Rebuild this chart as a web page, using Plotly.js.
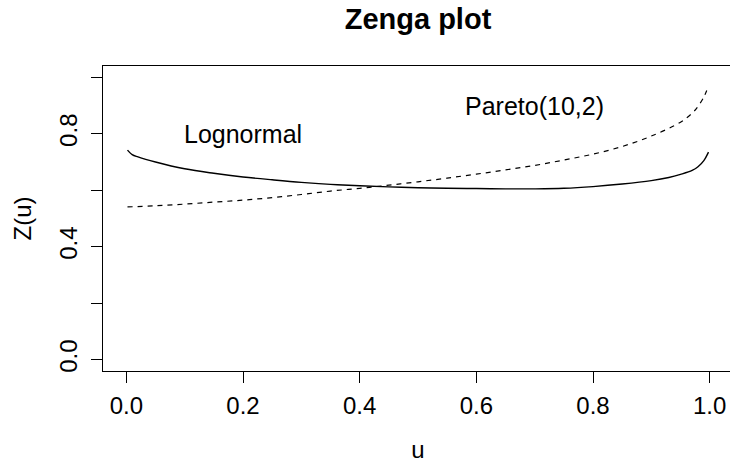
<!DOCTYPE html>
<html>
<head>
<meta charset="utf-8">
<script src="https://cdn.plot.ly/plotly-3.0.1.min.js"></script>
<style>
html, body { margin:0; padding:0; overflow:hidden; background:#fff; }
#chart { width:740px; height:463px; }
</style>
</head>
<body>
<div id="chart"></div>
<script>
// Lognormal Zenga curve (solid)
const uLogn = [0.002, 0.01, 0.02, 0.05, 0.10, 0.15, 0.20, 0.25, 0.30, 0.35, 0.40, 0.45, 0.50, 0.55, 0.60, 0.65, 0.70, 0.75, 0.80, 0.85, 0.90, 0.93, 0.95, 0.97, 0.98, 0.99, 0.998];
const zLogn = [0.742, 0.726, 0.718, 0.700, 0.676, 0.660, 0.647, 0.637, 0.628, 0.621, 0.616, 0.612, 0.609, 0.607, 0.606, 0.605, 0.605, 0.607, 0.613, 0.622, 0.634, 0.645, 0.656, 0.670, 0.683, 0.705, 0.735];
// Pareto(10,2) Zenga curve (dashed)
const uPar = [0.002, 0.05, 0.10, 0.15, 0.20, 0.25, 0.30, 0.35, 0.40, 0.45, 0.50, 0.55, 0.60, 0.65, 0.70, 0.75, 0.80, 0.85, 0.90, 0.95, 0.97, 0.98, 0.99, 0.995];
const zPar = [0.541, 0.545, 0.551, 0.558, 0.565, 0.574, 0.585, 0.597, 0.607, 0.618, 0.630, 0.643, 0.657, 0.672, 0.688, 0.707, 0.728, 0.755, 0.792, 0.841, 0.873, 0.897, 0.930, 0.953];

const xTickVals = [0, 0.2, 0.4, 0.6, 0.8, 1.0];
const xTickText = ["0.0", "0.2", "0.4", "0.6", "0.8", "1.0"];
const yTickVals = [0, 0.2, 0.4, 0.6, 0.8, 1.0];
const yTickText = ["0.0", "", "0.4", "", "0.8", ""];

const labels = [
  {text: "Lognormal", x: 0.2, y: 0.8},
  {text: "Pareto(10,2)", x: 0.7, y: 0.9}
];

const FONT = "Liberation Sans, Arial, Helvetica, sans-serif";

const traces = [
  {x: uLogn, y: zLogn, type: "scatter", mode: "lines", line: {color: "#000", width: 1.4, shape: "spline"}, hoverinfo: "skip"},
  {x: uPar, y: zPar, type: "scatter", mode: "lines", line: {color: "#000", width: 1.2, dash: "5px,5px", shape: "spline"}, hoverinfo: "skip"}
];

const layout = {
  width: 740, height: 463,
  margin: {l: 103, r: 7, t: 66, b: 92},
  paper_bgcolor: "#fff", plot_bgcolor: "#fff",
  showlegend: false,
  font: {family: FONT, size: 24, color: "#000"},
  title: {text: "<b>Zenga plot</b>", font: {family: FONT, size: 29, color: "#000"},
          x: 0.5, xref: "paper", xanchor: "center", y: 1 - 19/463, yref: "container", yanchor: "middle"},
  xaxis: {
    range: [-0.04, 1.04], tickvals: xTickVals, ticktext: xTickText,
    ticks: "outside", ticklen: 11, tickwidth: 1, tickcolor: "#000",
    showline: true, mirror: true, linecolor: "#000", linewidth: 1,
    showgrid: false, zeroline: false,
    tickfont: {size: 24}, ticklabelstandoff: 2,
    title: {text: "u", font: {size: 24}, standoff: 24}
  },
  yaxis: {
    range: [-0.04, 1.04], tickvals: yTickVals, ticktext: yTickText,
    ticks: "outside", ticklen: 11, tickwidth: 1, tickcolor: "#000",
    showline: true, mirror: true, linecolor: "#000", linewidth: 1,
    showgrid: false, zeroline: false, tickangle: -90,
    tickfont: {size: 24}, ticklabelstandoff: 4,
    title: {text: "Z(u)", font: {size: 24}, standoff: 17}
  },
  annotations: labels.map(l => ({text: l.text, x: l.x, y: l.y, xref: "x", yref: "y", showarrow: false,
    xanchor: "center", yanchor: "middle", font: {family: FONT, size: 25, color: "#000"}}))
};

Plotly.newPlot("chart", traces, layout, {staticPlot: true, displayModeBar: false});
</script>
</body>
</html>
